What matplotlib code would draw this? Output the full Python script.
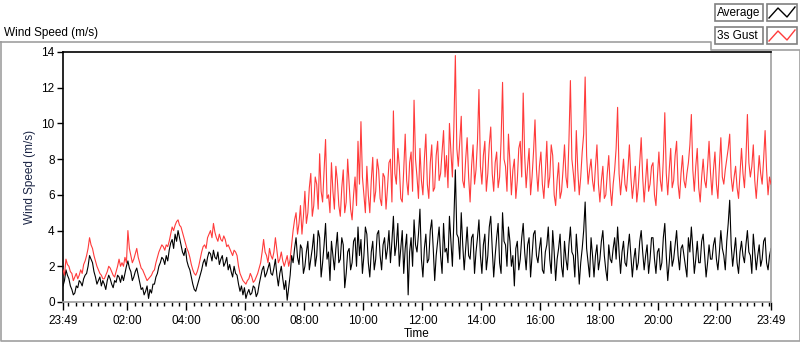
import numpy as np
import matplotlib
matplotlib.use("Agg")
import matplotlib.pyplot as plt
from matplotlib.patches import Rectangle

plt.rcParams['font.family'] = ['Liberation Sans', 'DejaVu Sans']

# ---- data (3-minute samples starting 23:49, one line per hour) ----
step_hours = 0.05
gust = [
    1.8, 1.5, 2.4, 2.1, 2.0, 1.7, 1.6, 1.2, 1.4, 1.6, 1.3, 1.5, 1.8, 1.6, 2.1, 2.3, 2.6, 3.0, 3.6, 3.2,
    3.0, 2.6, 2.3, 2.0, 1.8, 1.6, 1.5, 1.3, 1.3, 1.5, 1.7, 2.0, 1.9, 1.7, 1.5, 1.4, 1.7, 2.0, 2.4, 2.0,
    2.2, 2.0, 2.5, 2.2, 4.0, 3.0, 2.6, 2.2, 2.4, 2.7, 3.0, 2.5, 2.2, 1.9, 1.8, 1.6, 1.4, 1.2, 1.3, 1.4,
    1.5, 1.7, 1.8, 2.2, 2.5, 2.8, 3.0, 3.2, 3.1, 2.9, 3.2, 3.1, 3.4, 3.8, 4.2, 4.0, 4.3, 4.5, 4.6, 4.3,
    4.2, 3.9, 3.6, 3.3, 3.0, 2.8, 2.5, 2.1, 1.8, 1.6, 1.5, 1.7, 2.0, 2.4, 2.8, 3.1, 3.2, 3.0, 3.6, 3.8,
    4.0, 3.6, 4.4, 3.9, 3.6, 3.4, 3.8, 3.5, 3.4, 3.7, 3.5, 3.1, 3.2, 3.0, 2.8, 2.6, 2.9, 2.8, 2.6, 2.0,
    1.6, 1.4, 1.2, 1.1, 1.0, 1.2, 1.3, 1.6, 1.4, 1.1, 1.2, 1.4, 1.6, 1.9, 2.2, 2.8, 3.5, 2.8, 2.6, 2.2,
    3.0, 2.6, 2.4, 2.8, 3.6, 2.9, 2.2, 2.4, 2.8, 2.3, 2.0, 2.3, 2.6, 2.0, 2.4, 3.2, 4.0, 4.6, 5.0, 3.8,
    4.4, 5.4, 3.8, 4.8, 6.2, 4.4, 5.0, 6.4, 7.2, 4.8, 5.4, 7.0, 6.6, 5.2, 8.3, 6.2, 5.6, 7.4, 9.1, 5.8,
    6.0, 5.0, 7.8, 6.2, 5.2, 7.6, 6.8, 5.4, 4.8, 6.4, 7.4, 5.0, 5.6, 8.0, 6.6, 5.2, 4.6, 6.0, 7.0, 5.4,
    9.0, 6.6, 10.1, 7.0, 6.0, 5.0, 7.6, 6.0, 5.0, 6.8, 8.1, 5.6, 6.2, 8.0, 7.4, 5.8, 5.4, 7.2, 7.0, 5.2,
    6.4, 7.8, 8.0, 5.6, 10.7, 7.2, 6.6, 8.6, 7.6, 5.8, 5.6, 7.4, 9.4, 6.8, 6.0, 7.8, 8.4, 6.2, 11.3, 8.0,
    7.0, 5.8, 8.6, 6.8, 6.0, 8.0, 9.4, 6.6, 5.8, 7.8, 8.8, 6.2, 6.4, 8.2, 9.0, 6.8, 7.2, 8.4, 9.6, 7.0,
    8.2, 6.4, 10.0, 8.4, 7.0, 9.8, 13.8, 8.6, 7.6, 9.0, 10.4, 6.8, 6.4, 8.0, 9.2, 7.0, 5.6, 7.6, 8.8, 6.6,
    7.4, 9.0, 11.9, 7.6, 6.6, 8.2, 9.0, 6.2, 7.2, 8.8, 9.8, 7.2, 6.2, 7.8, 8.4, 6.4, 7.0, 9.0, 12.3, 8.0,
    7.6, 6.2, 9.4, 7.8, 6.0, 7.4, 8.0, 5.8, 6.8, 8.6, 9.0, 7.0, 11.7, 8.2, 6.4, 7.6, 8.6, 6.0, 7.0, 8.4,
    10.2, 7.4, 6.2, 7.6, 8.4, 6.6, 5.8, 7.2, 9.0, 6.4, 7.0, 8.8, 8.2, 6.0, 5.4, 6.8, 7.8, 5.8, 6.2, 7.4,
    8.8, 7.0, 6.4, 9.0, 12.4, 8.0, 7.2, 6.2, 9.6, 7.4, 6.0, 7.0, 8.4, 9.4, 12.6, 8.2, 6.6, 7.4, 8.0, 6.8,
    6.2, 7.6, 8.8, 6.6, 5.6, 6.8, 7.6, 5.8, 6.0, 7.2, 8.2, 6.4, 5.4, 6.6, 7.4, 8.6, 10.9, 7.2, 6.0, 7.0,
    8.0, 6.6, 6.2, 7.4, 8.8, 7.0, 5.8, 6.6, 7.6, 5.6, 6.4, 7.8, 9.2, 7.0, 5.6, 6.8, 8.0, 6.2, 6.6, 7.6,
    7.8, 6.0, 5.4, 7.0, 8.4, 6.8, 6.2, 8.0, 10.6, 7.2, 6.0, 7.4, 8.6, 6.4, 6.8, 8.2, 9.0, 6.6, 5.8, 7.2,
    8.2, 6.8, 6.4, 7.2, 7.8, 8.8, 10.5, 7.4, 6.2, 7.6, 8.6, 6.4, 5.6, 7.0, 8.0, 6.8, 6.4, 7.6, 9.0, 7.2,
    6.0, 7.4, 8.4, 6.6, 5.8, 7.6, 9.2, 7.0, 6.6, 7.4, 8.0, 8.6, 9.4, 7.0, 6.2, 7.0, 7.6, 6.4, 5.8, 7.2,
    8.6, 7.2, 6.4, 8.0, 10.5, 7.8, 7.0, 7.6, 8.8, 6.8, 5.8, 7.0, 8.2, 7.2, 6.6, 8.0, 9.6, 7.4, 6.0, 7.0,
    6.6,
]
average = [
    0.9, 1.2, 1.8, 1.5, 1.3, 0.9, 0.7, 0.4, 0.5, 0.9, 0.8, 1.2, 1.1, 0.9, 1.3, 1.5, 1.6, 2.0, 2.6, 2.4,
    2.2, 1.7, 1.4, 1.0, 1.2, 1.4, 0.9, 1.2, 1.0, 0.7, 1.2, 1.5, 1.3, 1.0, 0.8, 1.2, 1.1, 1.5, 1.4, 1.1,
    1.5, 1.2, 1.6, 2.0, 2.3, 1.9, 1.7, 1.2, 1.4, 1.7, 1.9, 1.5, 1.1, 0.7, 0.8, 0.4, 0.6, 0.9, 0.2, 0.7,
    0.5, 1.0, 1.0, 1.4, 1.6, 2.0, 2.2, 2.5, 2.4, 2.1, 2.6, 2.3, 2.9, 3.3, 3.5, 3.0, 3.8, 3.4, 4.0, 3.6,
    3.2, 2.8, 2.6, 3.0, 2.3, 2.0, 1.8, 1.4, 1.0, 0.7, 0.6, 0.9, 1.2, 1.5, 1.8, 2.2, 2.4, 2.0, 2.5, 2.8,
    2.7, 2.3, 2.9, 2.5, 2.4, 2.8, 2.1, 2.4, 2.6, 2.0, 2.2, 2.5, 1.8, 2.1, 1.7, 1.4, 2.0, 1.6, 1.5, 1.0,
    0.6, 0.9, 0.4, 0.8, 0.2, 0.5, 0.7, 0.4, 0.5, 0.9, 0.8, 0.3, 0.5, 1.0, 1.4, 1.8, 2.0, 1.4, 1.6, 1.9,
    2.2, 1.6, 1.5, 1.9, 2.4, 1.5, 0.9, 1.6, 2.0, 1.3, 0.7, 1.2, 0.1, 0.8, 1.5, 2.6, 2.2, 3.0, 3.6, 2.5,
    2.1, 3.2, 3.0, 1.6, 2.0, 2.8, 3.4, 1.8, 2.4, 3.0, 3.8, 2.0, 2.6, 4.0, 3.6, 1.4, 2.2, 3.2, 4.4, 2.4,
    2.8, 1.2, 3.4, 2.6, 1.8, 3.0, 3.9, 2.2, 2.4, 3.6, 3.2, 0.8, 1.6, 2.8, 3.0, 1.8, 2.2, 3.4, 3.6, 2.0,
    4.2, 2.6, 3.5, 1.6, 2.6, 4.2, 3.8, 2.2, 1.4, 2.8, 3.4, 1.8, 2.4, 3.8, 4.0, 2.6, 1.8, 3.2, 3.6, 2.4,
    3.0, 4.0, 2.2, 3.4, 4.8, 2.6, 3.2, 4.4, 2.0, 3.0, 4.0, 1.6, 3.0, 3.8, 0.4, 2.8, 3.6, 2.0, 4.6, 3.2,
    2.8, 3.8, 5.2, 2.4, 1.4, 3.0, 3.8, 2.2, 2.4, 4.0, 4.6, 3.0, 1.2, 2.6, 3.4, 4.2, 2.6, 1.6, 4.4, 2.8,
    3.0, 2.2, 4.8, 3.4, 2.0, 4.6, 7.4, 3.8, 3.6, 2.4, 5.0, 3.2, 1.8, 3.0, 4.2, 2.6, 2.4, 3.6, 3.8, 1.6,
    2.8, 3.6, 4.6, 2.6, 1.6, 3.2, 3.8, 1.8, 2.6, 4.2, 4.8, 3.0, 1.4, 2.6, 3.6, 4.4, 2.2, 1.6, 5.0, 3.4,
    3.2, 2.0, 4.2, 3.4, 2.0, 2.6, 0.9, 3.0, 3.4, 1.8, 2.4, 3.6, 4.4, 2.8, 1.8, 3.2, 3.6, 1.4, 2.6, 3.8,
    4.0, 2.6, 2.2, 3.0, 3.6, 1.8, 1.6, 2.8, 3.2, 4.2, 2.4, 1.6, 4.0, 2.8, 1.2, 2.4, 3.0, 3.8, 2.0, 1.4,
    3.4, 2.4, 1.8, 3.2, 4.2, 2.8, 2.6, 1.4, 3.8, 2.6, 1.0, 2.2, 3.0, 4.0, 5.6, 3.0, 2.2, 1.4, 3.6, 2.6,
    1.4, 2.6, 3.2, 1.8, 2.4, 3.4, 4.0, 2.6, 1.8, 1.2, 3.2, 2.4, 2.2, 3.0, 3.6, 2.4, 4.2, 2.8, 1.6, 2.8,
    3.4, 2.2, 2.0, 3.0, 3.8, 2.6, 1.4, 2.4, 3.0, 1.8, 2.2, 3.4, 4.0, 2.8, 1.8, 2.6, 3.2, 1.6, 2.4, 3.6,
    3.6, 2.4, 1.6, 2.8, 3.0, 1.8, 2.2, 3.6, 4.4, 2.6, 1.2, 2.2, 3.4, 2.0, 2.4, 3.2, 4.0, 2.6, 1.8, 3.0,
    3.2, 2.6, 2.0, 1.4, 3.6, 2.8, 4.2, 3.0, 1.6, 2.4, 3.4, 2.2, 2.2, 3.4, 3.8, 2.6, 1.4, 2.2, 3.2, 2.4,
    2.4, 3.2, 3.6, 2.4, 1.8, 2.8, 4.0, 3.0, 2.6, 1.8, 3.4, 4.4, 5.7, 3.2, 2.0, 2.8, 3.6, 2.2, 1.6, 2.8,
    3.4, 2.6, 2.2, 3.2, 4.0, 2.8, 2.6, 1.6, 3.8, 2.8, 1.8, 2.6, 3.2, 2.0, 2.4, 3.4, 3.6, 2.2, 1.8, 2.6,
    3.0,
]
x_tick_labels = ["23:49", "02:00", "04:00", "06:00", "08:00", "10:00",
                 "12:00", "14:00", "16:00", "18:00", "20:00", "22:00", "23:49"]
y_ticks = [0, 2, 4, 6, 8, 10, 12, 14]
series_names = ["Average", "3s Gust"]

start_min = 23 * 60 + 49


def hours_since_start(lbl, is_end=False):
    h, m = map(int, lbl.split(":"))
    t = h * 60 + m - start_min
    if t < 0 or (is_end and t == 0):
        t += 24 * 60
    return t / 60.0


xt = [hours_since_start(l, i == len(x_tick_labels) - 1) for i, l in enumerate(x_tick_labels)]
xt[0] = 0.0
t_g = np.arange(len(gust)) * step_hours
t_a = np.arange(len(average)) * step_hours

W, H = 800, 342
fig = plt.figure(figsize=(W / 100, H / 100), dpi=100)
fig.patch.set_facecolor("white")

L, R, T, B = 63, 771, 52, 302
ax = fig.add_axes([L / W, 1 - B / H, (R - L) / W, (B - T) / H])
ax.plot(t_a, average, color="black", lw=0.8, zorder=2)
ax.plot(t_g, gust, color="#ff3b3b", lw=0.8, zorder=3)
ax.set_xlim(0, 24)
ax.set_ylim(0, 14)
ax.set_yticks(y_ticks)
ax.set_yticklabels([str(v) for v in y_ticks])
ax.set_xticks(xt)
ax.set_xticklabels(x_tick_labels)
minor = np.arange(11 / 60.0, 24, 0.25)
ax.set_xticks(minor, minor=True)
ax.tick_params(axis="both", which="major", labelsize=8.5, length=4, width=1,
               color="black", pad=2)
ax.tick_params(axis="x", which="major", length=6, pad=3)
ax.tick_params(axis="x", which="minor", length=3, width=1, color="black")
ax.tick_params(axis="y", which="minor", length=0)
for s in ["top", "left"]:
    ax.spines[s].set_color("black")
for s in ["bottom", "right"]:
    ax.spines[s].set_color("#a0a0a0")
for s in ax.spines.values():
    s.set_linewidth(1.2)
ax.set_ylabel("Wind Speed (m/s)", fontsize=8.5, color="#1a2444", labelpad=4)
ax.set_xlabel("Time", fontsize=8.5, color="black", labelpad=1)

# overlay for frame and legend (pixel coordinates)
ov = fig.add_axes([0, 0, 1, 1], zorder=-1)
ov.set_xlim(0, W)
ov.set_ylim(H, 0)
ov.axis("off")
gray = "#a0a0a0"
ov.plot([0.5, 711, 711, 799.5, 799.5, 0.5, 0.5],
        [42, 42, 50, 50, 341, 341, 42], color=gray, lw=1.2)
ov.text(4, 33, "Wind Speed (m/s)", fontsize=8.5, va="center", ha="left")

ov2 = fig.add_axes([0, 0, 1, 1], zorder=5)
ov2.set_xlim(0, W)
ov2.set_ylim(H, 0)
ov2.axis("off")
rows = [(4, 21, "black"), (27, 44, "#ff3b3b")]
for (y0, y1, c), name in zip(rows, series_names):
    ov2.add_patch(Rectangle((715, y0), 48, y1 - y0, facecolor="white",
                            edgecolor="#808080", lw=1.2))
    ov2.text(717, (y0 + y1) / 2 + 0.5, name, fontsize=8.5, va="center", ha="left")
    ov2.add_patch(Rectangle((767, y0), 30, y1 - y0, facecolor="white",
                            edgecolor="#808080", lw=1.2))
    ov2.plot([769, 778, 787, 795], [y1 - 3, y0 + 4, y1 - 4, y0 + 3], color=c, lw=1)

fig.savefig("out.png", dpi=100, facecolor="white")
